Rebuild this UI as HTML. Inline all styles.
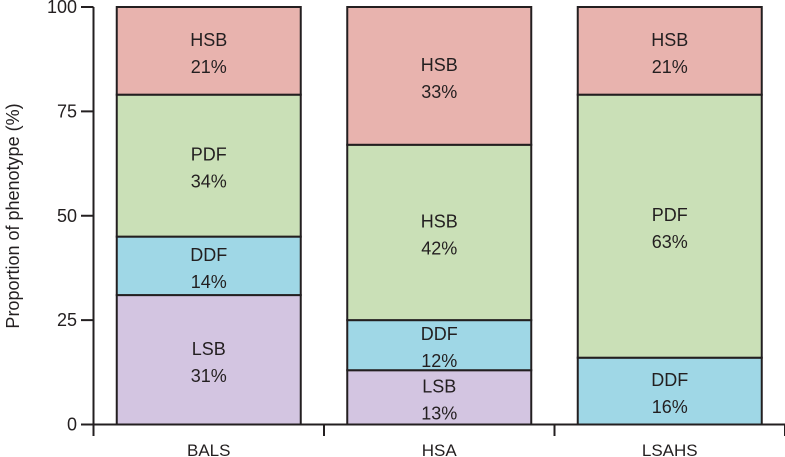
<!DOCTYPE html>
<html><head><meta charset="utf-8"><style>
html,body{margin:0;padding:0;background:#fff;}
svg{display:block;font-family:"Liberation Sans",sans-serif;}
</style></head><body>
<svg id="chart" width="785" height="457" viewBox="0 0 785 457"></svg>
<script>
const categories = ["BALS","HSA","LSAHS"];
const segLabels = [["LSB","DDF","PDF","HSB"],["LSB","DDF","HSB","HSB"],["DDF","PDF","HSB"]];
const segValues = [[31,14,34,21],[13,12,42,33],[16,63,21]];
const segTypes = [["LSB","DDF","PDF","HSB"],["LSB","DDF","PDF","HSB"],["DDF","PDF","HSB"]];
const yTicks = [0,25,50,75,100];
const colors = {LSB:"#d3c5e1",DDF:"#9fd7e6",PDF:"#cae0b7",HSB:"#e8b3ae"};
const NS="http://www.w3.org/2000/svg";
const svg=document.getElementById('chart');
const y0=424.5, y100=7, axisX=93.5, plotL=93.5, catW=230.5, barW=184;
const yS=v=>y0-(y0-y100)*v/100;
const xC=i=>plotL+catW*(i+0.5);
function mk(t,a,p){const e=document.createElementNS(NS,t);for(const k in a)e.setAttribute(k,a[k]);(p||svg).appendChild(e);return e;}
categories.forEach((c,i)=>{
  const g=mk('g',{});
  
  
  let acc=0;
  segValues[i].forEach((v,j)=>{
    const top=yS(acc+v), bot=yS(acc);
    const r=mk('rect',{x:xC(i)-barW/2,y:top,width:barW,height:bot-top,fill:colors[segTypes[i][j]],stroke:"#231f20","stroke-width":2},g);
    
    
    const cy=(top+bot)/2;
    const t1=mk('text',{x:xC(i),y:cy-5,"text-anchor":"middle","font-size":18,fill:"#231f20"},g);
    t1.textContent=segLabels[i][j];
    
    
    const t2=mk('text',{x:xC(i),y:cy+22,"text-anchor":"middle","font-size":18,fill:"#231f20"},g);
    t2.textContent=v+"%";
    
    
    acc+=v;
  });
});
const ax=mk('path',{d:`M${axisX} 7 V436 M${axisX} ${y0} H785`,stroke:"#231f20","stroke-width":2,fill:"none"});


yTicks.forEach(v=>{
  const l=mk('line',{x1:81,x2:axisX,y1:yS(v),y2:yS(v),stroke:"#231f20","stroke-width":2});
  
  
  const t=mk('text',{x:77,y:yS(v)+6,"text-anchor":"end","font-size":18,fill:"#231f20"});
  t.textContent=v;
  
  
});
for(let i=1;i<=categories.length;i++){
  const x=plotL+catW*i;
  const l=mk('line',{x1:x,x2:x,y1:y0,y2:436,stroke:"#231f20","stroke-width":2});
  
  
}
categories.forEach((c,i)=>{
  const t=mk('text',{x:xC(i),y:456,"text-anchor":"middle","font-size":17,fill:"#231f20"});
  t.textContent=c;
  
  
});
const yt=mk('text',{x:0,y:0,transform:"translate(19,216) rotate(-90)","text-anchor":"middle","font-size":18,fill:"#231f20"});
yt.textContent="Proportion of phenotype (%)";


</script>
</body></html>
